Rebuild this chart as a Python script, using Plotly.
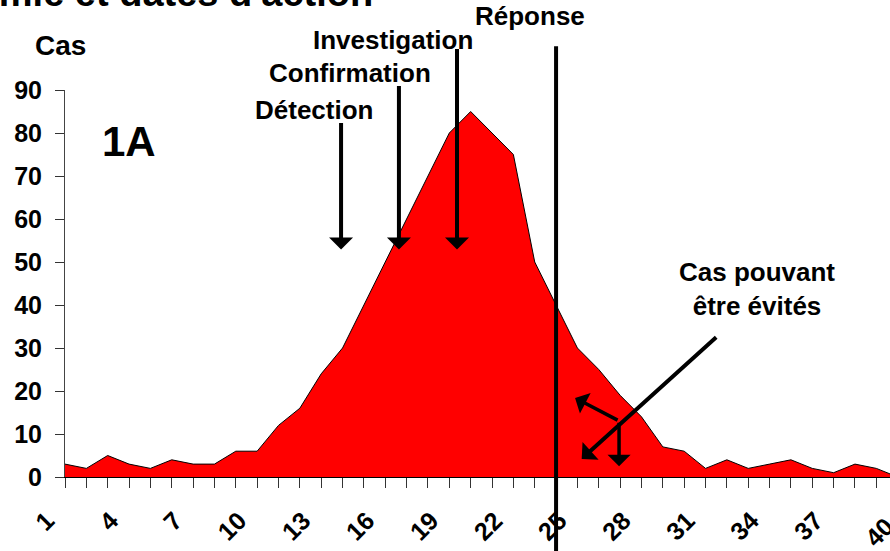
import plotly.graph_objects as go

# ---- data ----
days = list(range(1, 41))
cases = [3, 2, 5, 3, 2, 4, 3, 3, 6, 6, 12, 16, 24, 30, 40, 50, 60, 70, 80, 85,
         80, 75, 50, 40, 30, 25, 19, 14, 7, 6, 2, 4, 2, 3, 4, 2, 1, 3, 2, 0]
tick_days = list(range(1, 41, 3))
tick_labels = [str(d) for d in tick_days]
y_ticks = list(range(0, 100, 10))

# dates of action (in day units)
action_days = {"Détection": 13.93, "Confirmation": 16.64, "Investigation": 19.36}
response_day = 24.0

XMIN, XMAX = 1, 39.64
FONT = "Liberation Sans, Arial, sans-serif"

fig = go.Figure()
fig.add_trace(go.Scatter(
    x=days, y=cases, mode="lines", fill="tozeroy",
    fillcolor="#FF0000", line=dict(color="black", width=1),
    hoverinfo="skip", showlegend=False))

fig.update_layout(
    width=890, height=551,
    margin=dict(l=65, r=0, t=90, b=74),
    paper_bgcolor="white", plot_bgcolor="white",
    font=dict(family=FONT, color="black"),
    showlegend=False,
    xaxis=dict(range=[XMIN, XMAX], tickmode="array", tickvals=tick_days,
               ticktext=tick_labels, tickangle=-45, ticks="outside", ticklen=10,
               tickcolor="#333", tickwidth=1, showline=True, linecolor="black",
               linewidth=1, showgrid=False, zeroline=False,
               tickfont=dict(size=25, weight="bold", family=FONT),
               ticklabelstandoff=8, ticklabelshift=-18,
               minor=dict(tickmode="linear", tick0=1, dtick=1, ticks="outside",
                          ticklen=10, tickcolor="#333", tickwidth=1, showgrid=False)),
    yaxis=dict(range=[0, 90], tickvals=y_ticks, ticks="outside", ticklen=9,
               tickcolor="#333", showline=True, linecolor="#444", linewidth=1,
               showgrid=False, zeroline=False,
               tickfont=dict(size=25, weight="bold", family=FONT),
               ticklabelstandoff=8),
)

# "40" label beyond visible range
fig.add_annotation(xref="paper", yref="paper",
                   x=(40 - XMIN) / (XMAX - XMIN), y=0, text="40", showarrow=False,
                   textangle=-45, xanchor="right", yanchor="top",
                   xshift=4, yshift=-32,
                   font=dict(size=25, weight="bold"))

def label(text, x, y, xref="x", yref="y", size=26):
    fig.add_annotation(x=x, y=y, xref=xref, yref=yref, text=text, showarrow=False,
                       font=dict(size=size, weight="bold"), xanchor="center",
                       yanchor="middle")

def arrow(x, y, ax, ay, width=4, size=1.0):
    fig.add_annotation(x=x, y=y, xref="x", yref="y", text="", showarrow=True,
                       ax=ax, ay=ay, arrowhead=1, arrowwidth=width,
                       arrowsize=size, arrowcolor="black", font=dict(size=1))

# title (cut off at the top of the picture)
fig.add_annotation(xref="paper", yref="paper", x=(375 - 65) / 825,
                   y=1.0, yshift=74, text="Courbe épidémie et dates d'action",
                   showarrow=False, xanchor="right", yanchor="bottom",
                   font=dict(size=38, weight="bold"))

label("Cas", -0.006, 1.114, xref="paper", yref="paper", size=28)
label("1A", 4.0, 78, size=42)
label("Détection", 12.66, 85.4)
label("Confirmation", 14.35, 1.045, yref="paper")
label("Investigation", 16.36, 1.13, yref="paper")
label("Réponse", 22.78, 1.19, yref="paper")
label("Cas pouvant<br>être évités", 33.41, 43.8, size=26)

arrow(action_days["Détection"], 52.9, 0, -128)
arrow(action_days["Confirmation"], 52.9, 0, -165)
arrow(action_days["Investigation"], 52.9, 0, -202)
arrow(25.2, 4.2, 136, -123)
arrow(24.89, 18.4, 44, 23, width=3.5, size=1.1)
arrow(26.95, 2.5, 0, -45, width=3.5, size=1.1)

fig.add_shape(type="line", xref="x", yref="paper", x0=response_day, x1=response_day,
              y0=-0.2, y1=1.113, line=dict(color="black", width=4))

fig.write_html("out.html", config={"displayModeBar": False},
               post_script="document.body.style.margin='0px';")
